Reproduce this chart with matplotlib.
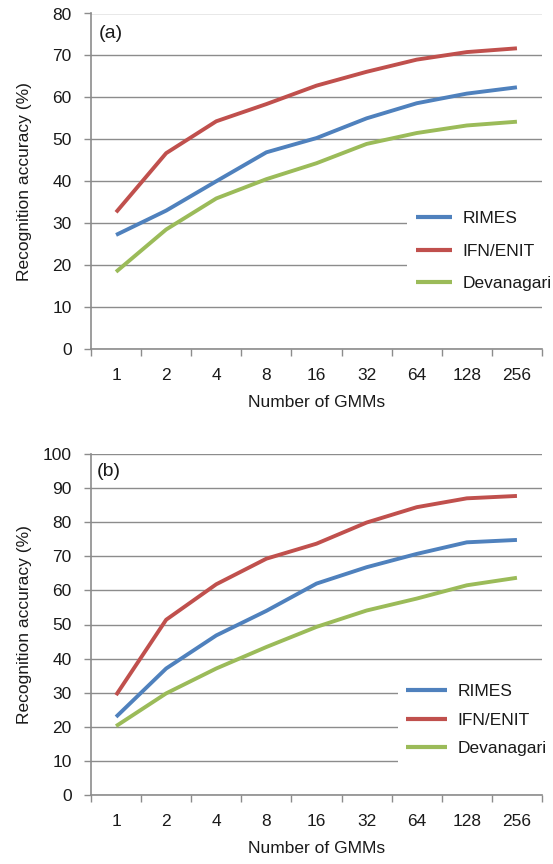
import matplotlib
matplotlib.use("Agg")
import matplotlib.pyplot as plt
from matplotlib.patches import Rectangle

plt.rcParams['font.family'] = ['Liberation Sans', 'DejaVu Sans']

categories = ["1", "2", "4", "8", "16", "32", "64", "128", "256"]
series_names = ["RIMES", "IFN/ENIT", "Devanagari"]
colors = ["#4f81bd", "#c0504d", "#9bbb59"]

rimes_a = [27.2, 33.0, 40.0, 46.9, 50.3, 55.0, 58.6, 60.9, 62.4]
ifn_a = [32.6, 46.7, 54.3, 58.4, 62.8, 66.1, 69.0, 70.8, 71.7]
deva_a = [18.4, 28.5, 35.9, 40.5, 44.3, 48.9, 51.5, 53.3, 54.2]

rimes_b = [22.9, 37.1, 46.8, 54.0, 62.0, 66.8, 70.7, 74.1, 74.8]
ifn_b = [29.3, 51.4, 61.8, 69.3, 73.7, 79.9, 84.4, 87.0, 87.7]
deva_b = [20.2, 29.8, 37.1, 43.4, 49.3, 54.1, 57.6, 61.5, 63.7]

W, H = 553, 864
fig = plt.figure(figsize=(W / 100, H / 100), dpi=100)

FS = 12.5
GRID = "#8c8c8c"


def px_axes(left, right, top, bottom):
    return fig.add_axes([left / W, 1 - bottom / H, (right - left) / W, (bottom - top) / H])


def draw(ax, data, ymax, label, label_xy, rect_px, leg_anchor, handlelen, spacing):
    x = list(range(len(categories)))
    ax.set_axisbelow(True)
    ax.yaxis.grid(True, color=GRID, linewidth=1.0)
    for vals, c, n in zip(data, colors, series_names):
        ax.plot(x, vals, color=c, linewidth=2.8, label=n, zorder=3,
                solid_capstyle='butt', solid_joinstyle='round')
    ax.set_xlim(-0.5, len(categories) - 0.5)
    ax.set_ylim(0, ymax)
    ax.set_yticks(range(0, ymax + 1, 10))
    ax.set_xticks(x)
    ax.set_xticklabels(categories)
    ax.set_xticks([i - 0.5 for i in range(len(categories) + 1)], minor=True)
    ax.tick_params(axis='x', which='major', length=0, pad=14, labelsize=FS, colors='#1a1a1a')
    ax.tick_params(axis='x', which='minor', length=5, width=1.0, color=GRID, direction='out')
    ax.tick_params(axis='y', length=5, width=1.0, color=GRID, pad=9, labelsize=FS,
                   labelcolor='#1a1a1a')
    for s in ['top', 'right']:
        ax.spines[s].set_visible(False)
    for s in ['left', 'bottom']:
        ax.spines[s].set_color(GRID)
        ax.spines[s].set_linewidth(1.2)
    ax.set_ylabel("Recognition accuracy (%)", fontsize=FS, color='#1a1a1a')
    ax.yaxis.set_label_coords((32 - 91) / 451, 0.5)
    ax.set_xlabel("Number of GMMs", fontsize=FS, color='#1a1a1a', labelpad=8)
    ax.text(label_xy[0], label_xy[1], label, transform=ax.transAxes, fontsize=14,
            color='#1a1a1a', ha='left', va='center')
    # white box behind legend covering gridlines
    x0, y0, x1, y1 = rect_px
    rect = Rectangle((x0 / W, 1 - y1 / H), (x1 - x0) / W, (y1 - y0) / H,
                     transform=fig.transFigure, facecolor='white', edgecolor='none',
                     zorder=1.5)
    ax.add_artist(rect)
    rect.set_clip_on(False)
    leg = ax.legend(loc='center left', bbox_to_anchor=leg_anchor, frameon=False,
                    fontsize=FS, handlelength=handlelen, handletextpad=0.6,
                    labelspacing=spacing, borderpad=0, borderaxespad=0)
    for t in leg.get_texts():
        t.set_color('#1a1a1a')
    for l in leg.get_lines():
        l.set_linewidth(3.0)


ax1 = px_axes(91, 542, 13.5, 349)
draw(ax1, [rimes_a, ifn_a, deva_a], 80, "(a)", (0.017, 0.94),
     (407, 190, 548, 300), ((416 - 91) / 451, (349 - 251) / 335.5), 2.1, 1.0)

ax2 = px_axes(91, 542, 454, 795)
draw(ax2, [rimes_b, ifn_b, deva_b], 100, "(b)", (0.013, 0.95),
     (398, 665, 548, 772), ((406 - 91) / 451, (795 - 720) / 341), 2.35, 0.75)

fig.savefig("out.png", dpi=100)
